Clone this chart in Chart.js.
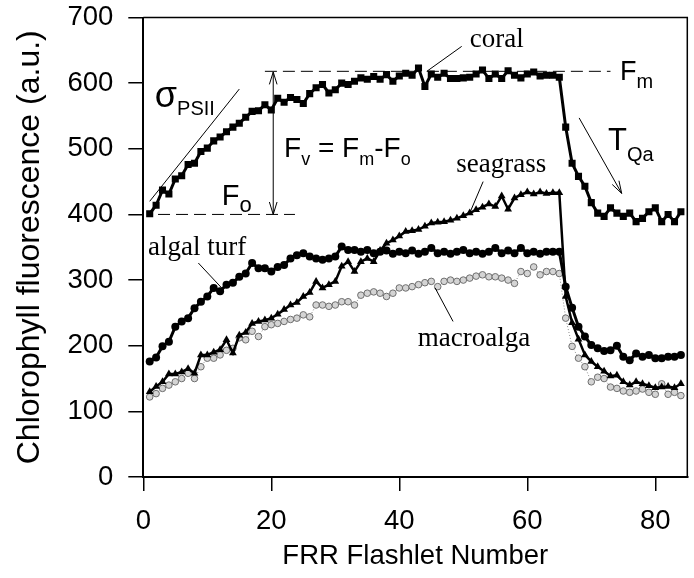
<!DOCTYPE html>
<html>
<head>
<meta charset="utf-8">
<script src="https://cdn.jsdelivr.net/npm/chart.js@4.4.1/dist/chart.umd.min.js"></script>
<style>
  html, body { margin: 0; padding: 0; background: #fff; }
  canvas { display: block; }
</style>
</head>
<body>
<canvas id="grafico" width="694" height="578"></canvas>
<script>
// dati
const flashlet = [1,2,3,4,5,6,7,8,9,10,11,12,13,14,15,16,17,18,19,20,
  21,22,23,24,25,26,27,28,29,30,31,32,33,34,35,36,37,38,39,40,
  41,42,43,44,45,46,47,48,49,50,51,52,53,54,55,56,57,58,59,60,
  61,62,63,64,65,66,67,68,69,70,71,72,73,74,75,76,77,78,79,80,
  81,82,83,84];

const coral = [401,414,437,431,454,459,476,478,496,501,
  512,518,526,533,539,548,557,558,567,559,
  577,571,578,575,569,584,593,598,585,590,
  600,598,603,608,606,610,606,613,603,611,
  615,612,623,595,614,609,615,607,607,608,
  609,614,620,607,614,607,619,612,608,614,
  617,611,612,612,609,533,478,458,443,418,
  402,397,410,402,397,402,389,394,404,410,
  389,400,389,404];

const seagrass = [130,138,145,157,157,160,165,158,186,186,
  190,194,209,189,216,220,234,237,239,242,
  248,255,262,266,275,281,298,288,293,298,
  321,328,313,328,333,328,345,356,361,367,
  374,375,377,382,387,388,389,391,394,398,
  402,407,411,416,412,428,408,425,430,434,
  431,434,432,433,433,275,235,210,186,176,
  168,161,154,155,145,140,145,142,139,136,
  137,138,136,142];

const algalTurf = [176,182,199,206,229,237,242,257,267,275,
  288,283,293,296,305,310,326,318,318,313,
  320,323,333,338,341,336,333,331,333,336,
  351,346,346,343,346,341,343,345,340,343,
  341,345,340,343,349,341,343,340,343,346,
  341,343,340,343,349,341,345,341,349,341,
  343,340,343,343,343,290,258,229,214,201,
  196,192,193,200,183,178,188,183,186,181,
  181,183,183,186];

const macroalga = [122,127,135,140,145,150,158,150,168,181,
  181,186,193,196,212,209,222,214,229,232,
  234,237,240,242,247,244,262,262,260,262,
  267,267,262,277,280,282,280,275,280,288,
  288,290,293,296,298,290,298,300,298,300,
  303,306,308,305,305,303,300,295,313,310,
  320,308,313,313,310,242,199,181,168,145,
  152,150,137,135,131,129,131,134,129,126,
  142,126,129,124];

const xTicks = [0, 20, 40, 60, 80];
const yTicks = [0, 100, 200, 300, 400, 500, 600, 700];

const SANS = "'Liberation Sans', Arial, sans-serif";
const SERIF = "'Liberation Serif', 'Times New Roman', serif";

const punti = serie => flashlet.map((f, i) => ({ x: f, y: serie[i] }));

function linea(ctx, x1, y1, x2, y2) {
  ctx.beginPath();
  ctx.moveTo(x1, y1);
  ctx.lineTo(x2, y2);
  ctx.stroke();
}

// punta aperta a V sul punto (x2, y2)
function punta(ctx, x1, y1, x2, y2) {
  const ang = Math.atan2(y2 - y1, x2 - x1);
  const l = 13, a = 0.3;
  ctx.beginPath();
  ctx.moveTo(x2 - l * Math.cos(ang - a), y2 - l * Math.sin(ang - a));
  ctx.lineTo(x2, y2);
  ctx.lineTo(x2 - l * Math.cos(ang + a), y2 - l * Math.sin(ang + a));
  ctx.stroke();
}

// testo con pedici: pezzi dispari = pedice
function testoPedice(ctx, x, y, pezzi, grande, piccolo, scarto) {
  let cx = x;
  pezzi.forEach((p, i) => {
    const sub = i % 2 === 1;
    ctx.font = `${sub ? piccolo : grande}px ${SANS}`;
    ctx.fillText(p, cx, sub ? y + scarto : y);
    cx += ctx.measureText(p).width;
  });
}

const annotazioni = {
  id: 'annotazioni',
  afterDatasetsDraw(chart) {
    const { ctx, chartArea: area, scales } = chart;
    const X = v => scales.x.getPixelForValue(v);
    const Y = v => scales.y.getPixelForValue(v);
    ctx.save();
    ctx.strokeStyle = '#000';
    ctx.fillStyle = '#000';
    ctx.textAlign = 'left';
    ctx.textBaseline = 'alphabetic';

    // cornice sopra e a destra
    ctx.lineWidth = 1.5;
    ctx.beginPath();
    ctx.moveTo(area.left, area.top);
    ctx.lineTo(area.right, area.top);
    ctx.lineTo(area.right, area.bottom);
    ctx.stroke();

    // Fm e Fo tratteggiate
    ctx.lineWidth = 1;
    ctx.setLineDash([12, 6]);
    linea(ctx, X(19), Y(618), X(73), Y(618));
    linea(ctx, X(2.3), Y(400), X(23.7), Y(400));
    ctx.setLineDash([]);

    // freccia doppia Fv
    linea(ctx, X(20.3), Y(400), X(20.3), Y(617));
    punta(ctx, X(20.3), Y(500), X(20.3), Y(617));
    punta(ctx, X(20.3), Y(500), X(20.3), Y(400));

    // pendenza sigma PSII
    linea(ctx, X(1), Y(420), X(15), Y(591));

    // freccia TQa
    linea(ctx, X(68.1), Y(547), X(74.75), Y(432));
    punta(ctx, X(68.1), Y(547), X(74.75), Y(432));

    // linee delle etichette
    linea(ctx, X(49.75), Y(656), X(44.3), Y(618));
    linea(ctx, X(53.1), Y(450), X(51), Y(402));
    linea(ctx, X(8.6), Y(326), X(12.25), Y(288));
    linea(ctx, X(48.4), Y(237), X(45.6), Y(288));

    // simboli
    testoPedice(ctx, X(1.8), Y(564), ['σ', 'PSII'], 36, 20, 8);
    testoPedice(ctx, X(12.25), Y(415), ['F', 'o'], 29, 22, 7);
    testoPedice(ctx, X(22), Y(488), ['F', 'v', ' = F', 'm', '-F', 'o'], 28, 18, 8);
    testoPedice(ctx, X(74.5), Y(605), ['F', 'm'], 27, 20, 8);
    testoPedice(ctx, X(72.6), Y(498), ['T', 'Qa'], 31, 20, 11);

    // nomi delle specie
    ctx.font = `27px ${SERIF}`;
    ctx.fillText('coral', X(51), Y(655));
    ctx.fillText('seagrass', X(48.9), Y(464));
    ctx.fillText('algal turf', X(0.73), Y(338));
    ctx.fillText('macroalga', X(42.9), Y(199));
    ctx.restore();
  }
};

const ctx = document.getElementById('grafico').getContext('2d');
const mioGrafico = new Chart(ctx, {
  type: 'line',
  data: {
    datasets: [
      {
        label: 'coral', data: punti(coral),
        borderColor: '#000', backgroundColor: '#000', borderWidth: 3,
        pointStyle: 'rect', pointRadius: 5, pointBorderWidth: 0
      },
      {
        label: 'seagrass', data: punti(seagrass),
        borderColor: '#000', backgroundColor: '#000', borderWidth: 2.5,
        pointStyle: 'triangle', pointRadius: 4.5, pointBorderWidth: 0
      },
      {
        label: 'algal turf', data: punti(algalTurf),
        borderColor: '#000', backgroundColor: '#000', borderWidth: 3,
        pointStyle: 'circle', pointRadius: 4, pointBorderWidth: 0
      },
      {
        label: 'macroalga', data: punti(macroalga),
        borderColor: '#888', borderWidth: 1, borderDash: [1, 2],
        pointStyle: 'circle', pointRadius: 3.3,
        pointBackgroundColor: '#d4d4d4', pointBorderColor: '#6e6e6e', pointBorderWidth: 1
      }
    ]
  },
  options: {
    responsive: false,
    animation: false,
    layout: { padding: { top: 17.5, right: 6.7, left: 0, bottom: 0 } },
    plugins: { legend: { display: false }, tooltip: { enabled: false } },
    scales: {
      x: {
        type: 'linear', min: 0, max: 85,
        afterBuildTicks: s => { s.ticks = xTicks.map(v => ({ value: v })); },
        afterFit: s => { s.height = 101; s.paddingLeft = 0; s.paddingRight = 0; },
        grid: { drawOnChartArea: false, drawTicks: true, tickLength: 14, color: '#000', lineWidth: 1.5 },
        border: { display: true, color: '#000', width: 2 },
        ticks: { color: '#000', font: { family: SANS, size: 27.5 }, padding: 14, maxRotation: 0 },
        title: {
          display: true, text: 'FRR Flashlet Number', color: '#000',
          font: { family: SANS, size: 27.5 }, padding: { top: 0, bottom: 5.5 }
        }
      },
      y: {
        type: 'linear', min: 0, max: 700,
        afterBuildTicks: s => { s.ticks = yTicks.map(v => ({ value: v })); },
        afterFit: s => { s.width = 143.3; s.paddingTop = 0; s.paddingBottom = 0; },
        grid: { drawOnChartArea: false, drawTicks: true, tickLength: 15, color: '#000', lineWidth: 1.5 },
        border: { display: true, color: '#000', width: 2 },
        ticks: { color: '#000', font: { family: SANS, size: 27.5 }, padding: 15 },
        title: {
          display: true, text: 'Chlorophyll fluorescence (a.u.)', color: '#000',
          font: { family: SANS, size: 32 }, padding: { top: 10.8, bottom: 0 }
        }
      }
    }
  },
  plugins: [annotazioni]
});
</script>
</body>
</html>
